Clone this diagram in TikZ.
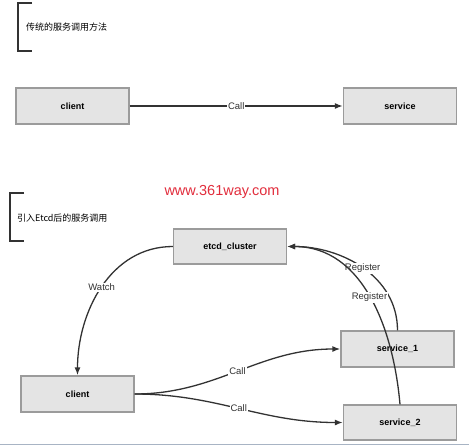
\documentclass[tikz,border=0pt]{standalone}
\usepackage{fontspec}
\setmainfont{Liberation Sans}
\newfontfamily\cjk{Noto Sans CJK SC}
\usetikzlibrary{arrows.meta}
\definecolor{boxgray}{RGB}{228,228,228}
\definecolor{edgegray}{RGB}{155,155,155}
\definecolor{linegray}{RGB}{50,50,50}
\definecolor{webred}{RGB}{225,45,60}
\definecolor{rulegray}{RGB}{168,180,196}
\begin{document}
\begin{tikzpicture}[x=1pt,y=1pt,
        box/.style={draw=edgegray,fill=boxgray,line width=1.3pt,minimum width=113pt,
            minimum height=36pt,inner sep=0pt,font=\fontsize{9}{11}\selectfont\bfseries},
        link/.style={draw=linegray,line width=1.3pt,-{Latex[length=8pt,width=6pt]}},
        lbl/.style={fill=white,inner sep=1pt,font=\fontsize{9.5}{11}\selectfont,text=linegray},
        title/.style={anchor=west,inner sep=0pt,font=\cjk\fontsize{9}{11}\selectfont},
        brace/.style={draw=linegray,line width=1.1pt}]
	\useasboundingbox (0,0) rectangle (469,-445);
	\draw[brace] (32,-3) -- (18,-3) -- (18,-51) -- (32,-51);
	\node[title] (old) at (26,-27) {传统的服务调用方法};
	\node[box] (client) at (72.5,-106) {client};
	\node[box] (service) at (400,-106) {service};
	\draw[link] (client) -- node[lbl] {Call} (service);
	\node[text=webred,font=\fontsize{14.5}{16}\selectfont] (site) at (222,-192) {www.361way.com};
	\draw[brace] (24,-193) -- (10,-193) -- (10,-241) -- (24,-241);
	\node[title] (new) at (17,-218) {引入Etcd后的服务调用};
	\node[box,minimum height=35pt] (etcd) at (230,-246.5) {etcd\_cluster};
	\node[box] (client2) at (77.5,-394) {client};
	\node[box] (s1) at (397.5,-349) {service\_1};
	\node[box,minimum height=35pt] (s2) at (400,-422.5) {service\_2};
	\draw[link] (etcd.west) to[out=180,in=90] node[lbl] {Watch} (client2.north);
	\draw[link] (s1.north) to[out=90,in=0] node[lbl] {Register} (etcd.east);
	\draw[link] (s2.north) to[out=95,in=0] node[lbl] {Register} (etcd.east);
	\draw[link] (client2.east) to[out=0,in=180] node[lbl] {Call} (s1.west);
	\draw[link] (client2.east) to[out=0,in=180] node[lbl] {Call} (s2.west);
	\draw[rulegray,line width=1pt] (0,-444) -- (469,-444);
\end{tikzpicture}
\end{document}
